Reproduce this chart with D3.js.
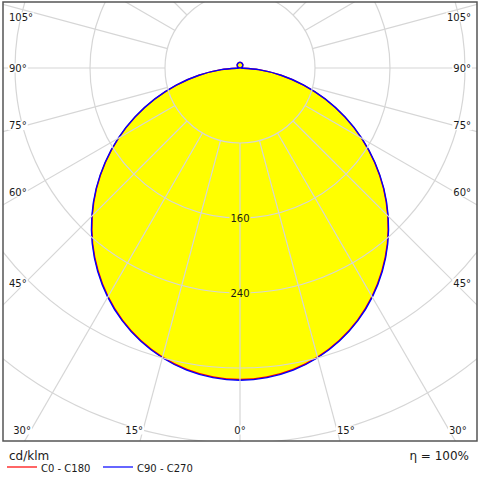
<!DOCTYPE html>
<html>
<head>
<meta charset="utf-8">
<script src="https://cdn.jsdelivr.net/npm/d3@7"></script>
<style>
  html, body { margin: 0; padding: 0; background: #fff; }
  svg { display: block; font-family: "DejaVu Sans", Verdana, sans-serif; }
</style>
</head>
<body>
<svg id="chart" width="480" height="480"></svg>
<script>
// gamma angle from nadir (deg) and intensity in cd/klm
const gammas = [0, 5, 10, 15, 20, 25, 30, 35, 40, 45, 50, 55, 60, 65, 70, 75, 80, 85, 90,
  95, 100, 105, 110, 115, 120, 125, 130, 135, 140, 145, 150, 155, 160, 165, 170, 175, 180]
const c0c180 = [332.2, 330.7, 326.4, 319.2, 309.3, 296.7, 281.5, 264.0, 244.5, 222.9, 199.8, 175.2, 149.6, 123.3, 96.7, 70.2, 44.4, 20.0, 0,
  0.5, 1, 1.5, 2, 2.5, 3, 3.4, 3.8, 4.2, 4.6, 4.9, 5.2, 5.4, 5.6, 5.8, 5.9, 6, 6]
const c90c270 = [333.0, 331.5, 327.2, 320.0, 310.0, 297.4, 282.2, 264.7, 245.1, 223.5, 200.3, 175.7, 150.1, 123.7, 97.0, 70.4, 44.5, 20.1, 0,
  0.5, 1, 1.5, 2, 2.5, 3, 3.4, 3.8, 4.2, 4.6, 4.9, 5.2, 5.4, 5.6, 5.8, 5.9, 6, 6]

const ringValues = [80, 160, 240, 320, 400]
const ringLabels = [160, 240]
const spokeAngles = [0, 15, 30, 45, 60, 75, 90, 105, 120, 135, 150, 165, 180]
const sideTicks = [45, 60, 75, 90, 105]
const bottomTicks = [-30, -15, 0, 15, 30]

const legendNames = ["C0 - C180", "C90 - C270"]
const legendColors = ["#ff0000", "#0000ff"]
const unitLabel = "cd/klm"
const effLabel = "η = 100%"

const cx = 240, cy = 68
const frame = {x: 3, y: 2, w: 474, h: 439}

const r = d3.scaleLinear()
  .domain([0, 400])
  .range([0, 375])

const svg = d3.select("#chart")
const rad = d => d * Math.PI / 180

// side: -1 left, +1 right
function pt(theta, side, radius) {
  return [cx + side * Math.sin(rad(theta)) * radius, cy + Math.cos(rad(theta)) * radius]
}

svg.append("defs").append("clipPath").attr("id", "clip")
  .append("rect")
  .attr("x", frame.x).attr("y", frame.y)
  .attr("width", frame.w).attr("height", frame.h)

var plot = svg.append("g").attr("clip-path", "url(#clip)")

function curvePoints(values) {
  var pts = []
  // right half from 180 down to 0, then left half from 0 up to 180
  for (let i = gammas.length - 1; i >= 0; i--) pts.push({a: Math.PI - rad(gammas[i]), v: values[i]})
  for (let i = 1; i < gammas.length - 1; i++) pts.push({a: Math.PI + rad(gammas[i]), v: values[i]})
  return pts
}

const radial = d3.lineRadial()
  .angle(d => d.a)
  .radius(d => r(d.v))
  .curve(d3.curveCatmullRomClosed.alpha(0.5))

var lobes = plot.append("g").attr("transform", `translate(${cx},${cy})`)

lobes.append("path")
  .attr("d", radial(curvePoints(c90c270)))
  .attr("fill", "#ffff00")

// grid
plot.selectAll(".ring")
  .data(ringValues)
  .enter().append("circle")
  .attr("cx", cx).attr("cy", cy)
  .attr("r", d => r(d))
  .attr("fill", "none")
  .attr("stroke", "#d6d6d6")
  .attr("stroke-width", 1.2)

var spokes = []
spokeAngles.forEach(a => {
  spokes.push({a, side: 1})
  if (a !== 0 && a !== 180) spokes.push({a, side: -1})
})

plot.selectAll(".spoke")
  .data(spokes)
  .enter().append("line")
  .attr("x1", d => pt(d.a, d.side, r(80))[0])
  .attr("y1", d => pt(d.a, d.side, r(80))[1])
  .attr("x2", d => pt(d.a, d.side, r(800))[0])
  .attr("y2", d => pt(d.a, d.side, r(800))[1])
  .attr("stroke", "#d6d6d6")
  .attr("stroke-width", 1.2)

// labels with a background box that hides the grid under them
function boxedText(parent, x, y, txt, anchor, bg, size) {
  var g = parent.append("g")
  var t = g.append("text")
    .attr("x", x).attr("y", y)
    .attr("text-anchor", anchor)
    .attr("dy", "0.35em")
    .attr("font-size", size)
    .attr("fill", "#1a1a1a")
    .text(txt)
  var b = t.node().getBBox()
  g.insert("rect", "text")
    .attr("x", b.x - 1).attr("y", b.y + 1)
    .attr("width", b.width + 2).attr("height", b.height - 2)
    .attr("fill", bg)
}

ringLabels.forEach(v => boxedText(plot, cx, cy + r(v), v, "middle", "#ffff00", 10))

// curves
lobes.append("path")
  .attr("d", radial(curvePoints(c0c180)))
  .attr("fill", "none")
  .attr("stroke", legendColors[0])
  .attr("stroke-width", 1.4)

lobes.append("path")
  .attr("d", radial(curvePoints(c90c270)))
  .attr("fill", "none")
  .attr("stroke", legendColors[1])
  .attr("stroke-width", 1.4)

// angle labels on the frame
var labels = svg.append("g")
const edgeDx = cx - 25
sideTicks.forEach(a => {
  var y = cy + edgeDx * Math.cos(rad(a)) / Math.sin(rad(a))
  y = Math.max(y, 17)
  boxedText(labels, 9, y, a + "°", "start", "#fff", 10)
  boxedText(labels, 471, y, a + "°", "end", "#fff", 10)
})

const bottomY = 430
bottomTicks.forEach(a => {
  var x = cx + (bottomY - cy) * Math.tan(rad(a))
  var anchor = a < 0 ? "end" : a > 0 ? "start" : "middle"
  boxedText(labels, x, bottomY, Math.abs(a) + "°", anchor, "#fff", 10)
})

svg.append("rect")
  .attr("x", frame.x).attr("y", frame.y)
  .attr("width", frame.w).attr("height", frame.h)
  .attr("fill", "none")
  .attr("stroke", "#555")
  .attr("stroke-width", 1.5)

// legend
svg.append("text")
  .attr("x", 9).attr("y", 460)
  .attr("font-size", 12)
  .attr("fill", "#1a1a1a")
  .text(unitLabel)

svg.append("text")
  .attr("x", 469).attr("y", 460)
  .attr("text-anchor", "end")
  .attr("font-size", 12)
  .attr("fill", "#1a1a1a")
  .text(effLabel)

var legend = svg.selectAll(".legend")
  .data(legendNames)
  .enter().append("g")
  .attr("transform", (d, i) => `translate(${7 + i * 96},467)`)

legend.append("line")
  .attr("x1", 0).attr("x2", 30)
  .attr("stroke", (d, i) => legendColors[i])
  .attr("stroke-width", 1.2)

legend.append("text")
  .attr("x", 34).attr("y", 5)
  .attr("font-size", 10)
  .attr("fill", "#1a1a1a")
  .text(d => d)
</script>
</body>
</html>
